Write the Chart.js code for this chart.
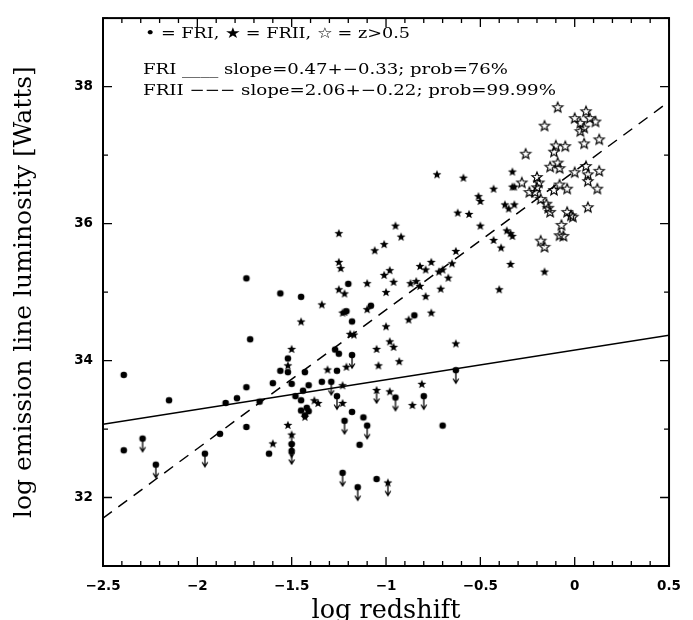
<!DOCTYPE html>
<html>
<head>
<meta charset="utf-8">
<script src="https://cdn.jsdelivr.net/npm/chart.js@4.4.1/dist/chart.umd.min.js"></script>
<style>
  html, body { margin: 0; padding: 0; background: #fff; }
  #wrap { width: 693px; height: 620px; }
</style>
</head>
<body>
<div id="wrap"><canvas id="c" width="693" height="620"></canvas></div>
<script>
// axis ticks
const xTicks = [-2.5, -2, -1.5, -1, -0.5, 0, 0.5];
const xTickLabels = ['\u22122.5', '\u22122', '\u22121.5', '\u22121', '\u22120.5', '0', '0.5'];
const yTicks = [32, 34, 36, 38];
const yTickLabels = ['32', '34', '36', '38'];

// FRI (dots), detections
const friPts = [
  [-2.39,33.79],[-2.39,32.69],[-2.15,33.42],[-1.88,32.93],[-1.85,33.38],[-1.79,33.45],
  [-1.74,33.61],[-1.74,33.03],[-1.72,34.31],[-1.67,33.40],[-1.62,32.64],[-1.60,33.67],
  [-1.56,33.85],[-1.52,33.83],[-1.50,33.66],[-1.52,34.03],[-1.48,33.48],[-1.45,33.42],
  [-1.44,33.56],[-1.43,33.83],[-1.41,33.64],[-1.45,33.27],[-1.42,33.31],[-1.41,33.26],
  [-1.43,33.20],[-1.34,33.69],[-1.26,33.85],[-1.25,34.10],[-1.20,35.12],[-1.08,34.80],
  [-1.21,34.72],[-1.18,34.57],[-0.85,34.66],[-1.27,34.16],[-1.18,33.25],[-1.12,33.17],
  [-1.14,32.77],[-0.70,33.05],[-1.05,32.27],[-1.74,35.20],[-1.56,34.98],[-1.45,34.93]
];
// FRI upper limits
const friLimPts = [
  [-2.29,32.86],[-2.22,32.48],[-1.96,32.64],[-1.29,33.69],[-1.23,32.36],[-1.22,33.12],
  [-1.50,32.78],[-1.50,32.68],[-1.26,33.48],[-1.18,34.08],[-1.10,33.05],[-0.95,33.46],
  [-0.80,33.48],[-0.63,33.86],[-1.15,32.15]
];
// FRII (filled stars), detections
const friiPts = [
  [-1.45,34.57],[-1.34,34.82],[-1.23,34.70],[-1.31,33.87],[-1.23,33.64],[-1.52,33.06],
  [-1.60,32.79],[-1.43,33.18],[-1.38,33.42],[-1.36,33.38],[-1.23,33.38],[-1.50,34.17],
  [-1.52,33.93],[-0.43,36.51],[-0.51,36.40],[-0.50,36.33],[-0.37,36.28],[-0.35,36.22],
  [-0.62,36.16],[-0.56,36.14],[-0.50,35.97],[-0.36,35.90],[-0.34,35.86],[-0.43,35.76],
  [-0.39,35.65],[-0.34,35.41],[-0.40,35.04],[-1.25,35.86],[-0.95,35.97],[-0.92,35.81],
  [-1.01,35.70],[-1.06,35.61],[-1.25,35.44],[-1.24,35.35],[-0.63,35.60],[-0.65,35.42],
  [-0.76,35.44],[-0.82,35.38],[-0.79,35.33],[-0.72,35.30],[-0.70,35.33],[-0.67,35.21],
  [-0.98,35.32],[-1.01,35.25],[-0.96,35.15],[-1.10,35.13],[-0.87,35.13],[-0.84,35.16],
  [-0.82,35.09],[-0.71,35.05],[-0.79,34.94],[-1.00,35.00],[-1.25,35.04],[-1.22,34.98],
  [-1.10,34.75],[-1.22,34.71],[-0.76,34.70],[-0.88,34.60],[-1.00,34.50],[-1.19,34.39],
  [-1.17,34.38],[-0.98,34.28],[-0.96,34.20],[-1.05,34.17],[-0.63,34.25],[-0.93,33.99],
  [-1.04,33.93],[-1.21,33.91],[-0.81,33.66],[-0.98,33.55],[-0.86,33.35],[-0.33,36.76],
  [-0.33,36.54],[-0.32,36.54],[-0.32,36.28],[-0.33,35.82],[-0.16,35.30],[-0.73,36.72],
  [-0.59,36.67]
];
// FRII upper limits
const friiLimPts = [[-1.50,32.92],[-1.05,33.57],[-0.99,32.22]];
// z > 0.5 (open stars)
const hizPts = [
  [-0.09,37.70],[-0.16,37.43],[-0.26,37.02],[0.00,37.54],[0.06,37.64],[0.08,37.54],
  [0.11,37.49],[0.03,37.47],[0.05,37.40],[0.03,37.35],[0.05,37.17],[0.13,37.23],
  [-0.10,37.14],[-0.05,37.13],[-0.11,37.05],[-0.09,36.89],[-0.13,36.83],[-0.08,36.81],
  [0.00,36.75],[0.06,36.84],[0.07,36.72],[0.13,36.77],[0.07,36.62],[0.12,36.51],
  [-0.04,36.51],[-0.08,36.57],[-0.11,36.49],[-0.20,36.68],[-0.19,36.60],[-0.24,36.46],
  [-0.21,36.46],[-0.20,36.53],[-0.18,36.36],[-0.15,36.29],[-0.14,36.23],[-0.13,36.17],
  [-0.04,36.17],[-0.02,36.12],[-0.01,36.10],[0.07,36.24],[-0.07,35.98],[-0.08,35.83],
  [-0.06,35.82],[-0.18,35.75],[-0.16,35.66],[-0.28,36.60]
];
// fitted lines (end points at the frame)
const fitFRI = [[-2.5,33.07],[0.5,34.37]];
const fitFRII = [[-2.5,31.70],[0.5,37.78]];

const noteLines = [
  '\u2022 = FRI, \u2605 = FRII, \u2606 = z>0.5',
  'FRI ____ slope=0.47+\u22120.33; prob=76%',
  'FRII \u2212\u2212\u2212 slope=2.06+\u22120.22; prob=99.99%'
];

const toXY = pts => pts.map(p => ({ x: p[0], y: p[1] }));

function starPath(ctx, cx, cy, R, r) {
  ctx.beginPath();
  for (let i = 0; i < 10; i++) {
    const a = -Math.PI / 2 + i * Math.PI / 5;
    const rr = i % 2 ? r : R;
    const px = cx + rr * Math.cos(a), py = cy + rr * Math.sin(a);
    i ? ctx.lineTo(px, py) : ctx.moveTo(px, py);
  }
  ctx.closePath();
}

// kind: 'dot' | 'star' | 'open'
function makeMarker(kind, limit) {
  const cv = document.createElement('canvas');
  cv.width = 14; cv.height = limit ? 36 : 14;
  const g = cv.getContext('2d');
  const cx = 7, cy = cv.height / 2;
  g.fillStyle = '#000'; g.strokeStyle = '#000';
  if (kind === 'dot') {
    g.beginPath(); g.arc(cx, cy, 3.3, 0, Math.PI * 2); g.fill();
  } else if (kind === 'star') {
    starPath(g, cx, cy + 0.4, 4.7, 2.0); g.fill();
  } else {
    g.lineWidth = 1.2;
    starPath(g, cx, cy + 0.4, 5.3, 2.3); g.stroke();
  }
  if (limit) {
    g.lineWidth = 1.3;
    g.beginPath();
    g.moveTo(cx, cy); g.lineTo(cx, cy + 13);
    g.moveTo(cx - 2.8, cy + 8.5); g.lineTo(cx, cy + 13); g.lineTo(cx + 2.8, cy + 8.5);
    g.stroke();
  }
  return cv;
}

const framePlugin = {
  id: 'frame',
  afterDatasetsDraw(chart) {
    const { ctx, chartArea: a, scales: { x, y } } = chart;
    ctx.save();
    ctx.strokeStyle = '#000';
    ctx.lineWidth = 2;
    ctx.strokeRect(a.left, a.top, a.right - a.left, a.bottom - a.top);
    ctx.lineWidth = 1.3;
    ctx.beginPath();
    for (let i = -25; i <= 5; i++) {
      const px = x.getPixelForValue(i / 10);
      const len = i % 5 === 0 ? 9 : 5;
      ctx.moveTo(px, a.bottom); ctx.lineTo(px, a.bottom - len);
      ctx.moveTo(px, a.top); ctx.lineTo(px, a.top + len);
    }
    for (let v = 31; v <= 39; v++) {
      const py = y.getPixelForValue(v);
      const len = v % 2 === 0 ? 9 : 5;
      ctx.moveTo(a.left, py); ctx.lineTo(a.left + len, py);
      ctx.moveTo(a.right, py); ctx.lineTo(a.right - len, py);
    }
    ctx.stroke();

    // note block, each line stretched to the width it has in the original
    const spots = [[145, 38, 265], [143, 74, 365], [143, 95, 413]];
    ctx.fillStyle = '#000';
    ctx.font = '15px "DejaVu Serif"';
    ctx.textBaseline = 'alphabetic';
    noteLines.forEach((t, i) => {
      const [tx, ty, tw] = spots[i];
      const k = tw / ctx.measureText(t).width;
      ctx.save();
      ctx.translate(tx, ty);
      ctx.scale(k, 1);
      ctx.fillText(t, 0, 0);
      ctx.restore();
    });
    ctx.restore();
  }
};

new Chart(document.getElementById('c'), {
  type: 'scatter',
  data: {
    datasets: [
      { label: 'FRI fit', type: 'line', data: toXY(fitFRI), borderColor: '#000', borderWidth: 1.5,
        pointRadius: 0, fill: false, order: 1 },
      { label: 'FRII fit', type: 'line', data: toXY(fitFRII), borderColor: '#000', borderWidth: 1.5,
        borderDash: [11, 8], pointRadius: 0, fill: false, order: 1 },
      { label: 'FRI', data: toXY(friPts), pointStyle: makeMarker('dot', false), pointRadius: 5 },
      { label: 'FRI limit', data: toXY(friLimPts), pointStyle: makeMarker('dot', true), pointRadius: 5 },
      { label: 'FRII', data: toXY(friiPts), pointStyle: makeMarker('star', false), pointRadius: 5 },
      { label: 'FRII limit', data: toXY(friiLimPts), pointStyle: makeMarker('star', true), pointRadius: 5 },
      { label: 'z>0.5', data: toXY(hizPts), pointStyle: makeMarker('open', false), pointRadius: 5 }
    ]
  },
  options: {
    responsive: false,
    animation: false,
    events: [],
    layout: { padding: { top: 12, right: 12, left: 0, bottom: 0 } },
    plugins: { legend: { display: false }, tooltip: { enabled: false } },
    scales: {
      x: {
        type: 'linear', min: -2.5, max: 0.5,
        afterBuildTicks: s => { s.ticks = xTicks.map(v => ({ value: v })); },
        afterFit: s => { s.height = 54; },
        grid: { display: false, drawTicks: false },
        border: { display: false },
        ticks: {
          autoSkip: false, maxRotation: 0, padding: 12, color: '#000',
          font: { family: 'DejaVu Sans', size: 13.5, weight: 'bold' },
          callback: (v, i) => xTickLabels[i]
        },
        title: {
          display: true, text: 'log redshift', color: '#000',
          font: { family: 'DejaVu Serif', size: 25.5, lineHeight: 1 },
          padding: { top: 0, bottom: -4 }
        }
      },
      y: {
        type: 'linear', min: 31, max: 39,
        afterBuildTicks: s => { s.ticks = yTicks.map(v => ({ value: v })); },
        afterFit: s => { s.width = 103; },
        grid: { display: false, drawTicks: false },
        border: { display: false },
        ticks: {
          autoSkip: false, padding: 10, color: '#000',
          font: { family: 'DejaVu Sans', size: 13.5, weight: 'bold' },
          callback: (v, i) => yTickLabels[i]
        },
        title: {
          display: true, text: 'log emission line luminosity [Watts]', color: '#000',
          font: { family: 'DejaVu Serif', size: 25, lineHeight: 1 },
          padding: { top: 11.5, bottom: 0 }
        }
      }
    }
  },
  plugins: [framePlugin]
});
</script>
</body>
</html>
